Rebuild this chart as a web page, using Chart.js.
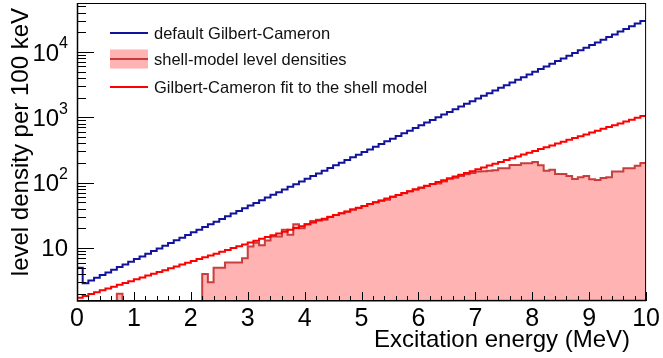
<!DOCTYPE html>
<html>
<head>
<meta charset="UTF-8">
<title>Level densities</title>
<script src="https://cdn.jsdelivr.net/npm/chart.js@4.4.1/dist/chart.umd.min.js"></script>
<style>
  body { margin: 0; background: #fff; }
  #chart { display: block; }
</style>
</head>
<body>
<canvas id="chart" width="663" height="358"></canvas>
<script>
// 100 bins of 100 keV from 0 to 10 MeV
var binWidth = 0.1;
var nBins = 100;

// default Gilbert-Cameron
var defaultGC = [
  5.00, 2.90, 3.18, 3.50, 3.85, 4.23, 4.64, 5.10, 5.61, 6.16,
  6.77, 7.44, 8.18, 8.98, 9.87, 10.8, 11.9, 13.1, 14.4, 15.8,
  17.4, 19.1, 21.0, 23.1, 25.3, 27.9, 30.6, 33.6, 36.9, 40.6,
  44.6, 49.0, 53.9, 59.2, 65.1, 71.5, 78.6, 86.4, 94.9, 104,
  115, 126, 138, 152, 167, 184, 202, 222, 244, 268,
  294, 323, 355, 390, 429, 471, 518, 569, 625, 687,
  755, 830, 912, 1000, 1100, 1210, 1330, 1460, 1610, 1760,
  1940, 2130, 2340, 2570, 2830, 3110, 3410, 3750, 4120, 4530,
  4980, 5470, 6010, 6600, 7260, 7970, 8760, 9630, 10600, 11600,
  12800, 14000, 15400, 17000, 18600, 20500, 22500, 24700, 27200, 29900
];

// Gilbert-Cameron fit to the shell model
var fitGC = [
  1.74, 1.85, 1.98, 2.11, 2.25, 2.40, 2.56, 2.73, 2.92, 3.11,
  3.32, 3.54, 3.78, 4.03, 4.30, 4.58, 4.89, 5.22, 5.57, 5.94,
  6.33, 6.76, 7.21, 7.69, 8.20, 8.75, 9.33, 9.96, 10.6, 11.3,
  12.1, 12.9, 13.8, 14.7, 15.7, 16.7, 17.8, 19.0, 20.3, 21.6,
  23.1, 24.6, 26.3, 28.0, 29.9, 31.9, 34.0, 36.3, 38.7, 41.3,
  44.1, 47.0, 50.1, 53.5, 57.1, 60.9, 64.9, 69.3, 73.9, 78.8,
  84.1, 89.7, 95.7, 102, 109, 116, 124, 132, 141, 150,
  161, 171, 183, 195, 208, 222, 237, 252, 269, 287,
  306, 327, 349, 372, 397, 424, 452, 482, 514, 548,
  585, 624, 666, 710, 758, 808, 862, 920, 981, 1047
];

// shell-model level densities
var shellModel = [
  0, 0, 0, 0, 0, 0, 0, 2, 0, 0,
  0, 0, 0, 0, 0, 0, 0, 0, 0, 0,
  0, 0, 4, 3, 5, 5, 6, 6, 6, 7,
  10.5, 12, 11, 13, 15, 15, 19, 16, 23, 20,
  23, 26, 27, 27, 30, 32, 34, 36, 39, 41,
  44, 47, 50, 53, 55, 61, 65, 69, 74, 79,
  83, 89, 95, 97, 104, 116, 119, 126, 134, 140,
  148, 150, 152, 155, 166, 166, 187, 187, 198, 198,
  208, 185, 152, 158, 136, 136, 126, 114, 121, 126,
  113, 110, 118, 121, 148, 148, 166, 166, 182, 200
];

var yDecades = [1, 2, 3, 4];
var legendLabels = ['default Gilbert-Cameron', 'shell-model level densities', 'Gilbert-Cameron fit to the shell model'];

var yMin = 1.545;
var yMax = 56200;
var font = '"Liberation Sans", Arial, Helvetica, sans-serif';

// bin edges; last edge repeats last bin content so the step closes at 10 MeV
function steps(vals) {
  var pts = [];
  for (var i = 0; i <= nBins; i++) {
    var v = vals[Math.min(i, nBins - 1)];
    pts.push({ x: +(i * binWidth).toFixed(1), y: v > 0 ? v : yMin });
  }
  return pts;
}

var rootStyle = {
  id: 'rootStyle',
  afterDatasetsDraw: function (chart) {
    var ctx = chart.ctx;
    var a = chart.chartArea;
    var xs = chart.scales.x;
    var ys = chart.scales.y;
    ctx.save();
    // frame
    ctx.strokeStyle = '#000';
    ctx.lineWidth = 1;
    ctx.strokeRect(a.left + 0.5, a.top + 0.5, a.right - a.left - 1, a.bottom - a.top - 1);
    ctx.lineWidth = 1.5;
    ctx.beginPath();
    ctx.moveTo(a.left + 0.5, a.top);
    ctx.lineTo(a.left + 0.5, a.bottom);
    ctx.lineTo(a.right, a.bottom - 0.5);
    ctx.stroke();

    // x ticks, inward
    ctx.lineWidth = 1;
    for (var t = 0; t <= 50; t++) {
      var xv = t * 0.2;
      var px = Math.round(xs.getPixelForValue(xv)) + 0.5;
      var len = (t % 5 === 0) ? 9 : 5;
      ctx.beginPath();
      ctx.moveTo(px, a.bottom);
      ctx.lineTo(px, a.bottom - len);
      ctx.stroke();
    }
    // y ticks, inward
    for (var d = 0; d <= 4; d++) {
      for (var m = 1; m <= 9; m++) {
        var yv = m * Math.pow(10, d);
        if (yv < yMin || yv > yMax) continue;
        var py = Math.round(ys.getPixelForValue(yv)) + 0.5;
        var l = (m === 1) ? 17 : 9;
        ctx.beginPath();
        ctx.moveTo(a.left, py);
        ctx.lineTo(a.left + l, py);
        ctx.stroke();
      }
    }

    // y labels 10, 10^2, ...
    ctx.fillStyle = '#000';
    ctx.textBaseline = 'middle';
    yDecades.forEach(function (k) {
      var py = ys.getPixelForValue(Math.pow(10, k));
      var right = a.left - 9;
      if (k === 1) {
        ctx.font = '24px ' + font;
        ctx.textAlign = 'right';
        ctx.fillText('10', right, py + 1);
      } else {
        ctx.font = '16px ' + font;
        var sw = ctx.measureText(String(k)).width;
        ctx.textAlign = 'left';
        ctx.fillText(String(k), right - sw, py - 8);
        ctx.font = '24px ' + font;
        ctx.textAlign = 'right';
        ctx.fillText('10', right - sw, py + 2);
      }
    });

    // axis titles
    ctx.font = '24px ' + font;
    ctx.textAlign = 'right';
    ctx.textBaseline = 'alphabetic';
    ctx.fillText('Excitation energy (MeV)', a.right - 16, 347);
    ctx.save();
    ctx.translate(28, 8);
    ctx.rotate(-Math.PI / 2);
    ctx.fillText('level density per 100 keV', 0, 0);
    ctx.restore();

    // legend
    var rows = [33, 59, 87];
    var ds = chart.data.datasets;
    ctx.font = '16.5px ' + font;
    ctx.textAlign = 'left';
    ctx.textBaseline = 'middle';
    legendLabels.forEach(function (lab, i) {
      var d = ds[i];
      var y = rows[i];
      if (d.fill) {
        ctx.fillStyle = d.backgroundColor;
        ctx.fillRect(110, y - 9.5, 38, 19);
      }
      ctx.strokeStyle = d.borderColor;
      ctx.lineWidth = 2;
      ctx.beginPath();
      ctx.moveTo(110, y);
      ctx.lineTo(148, y);
      ctx.stroke();
      ctx.fillStyle = '#111';
      ctx.fillText(lab, 154, y + 1);
    });
    ctx.restore();
  }
};

var chart = new Chart(document.getElementById('chart'), {
  type: 'line',
  data: {
    datasets: [
      {
        label: legendLabels[0],
        data: steps(defaultGC),
        borderColor: '#12129c',
        borderWidth: 2,
        stepped: 'before',
        pointRadius: 0,
        fill: false,
        order: 1
      },
      {
        label: legendLabels[1],
        data: steps(shellModel),
        borderColor: 'rgba(195,45,45,0.9)',
        backgroundColor: '#ffb3b3',
        borderWidth: 2,
        stepped: 'before',
        pointRadius: 0,
        fill: 'start',
        order: 3
      },
      {
        label: legendLabels[2],
        data: steps(fitGC),
        borderColor: '#ff0000',
        borderWidth: 2,
        stepped: 'before',
        pointRadius: 0,
        fill: false,
        order: 2
      }
    ]
  },
  options: {
    responsive: false,
    animation: false,
    layout: { padding: { top: 3, right: 14, left: 0, bottom: 0 } },
    plugins: {
      legend: { display: false },
      tooltip: { enabled: false }
    },
    scales: {
      x: {
        type: 'linear',
        min: 0,
        max: 10,
        grid: { display: false, drawTicks: false },
        border: { display: false },
        ticks: {
          stepSize: 1,
          autoSkip: false,
          maxRotation: 0,
          padding: 3,
          color: '#000',
          font: { size: 25, family: font }
        },
        afterFit: function (s) { s.height = 57; }
      },
      y: {
        type: 'logarithmic',
        min: yMin,
        max: yMax,
        grid: { display: false, drawTicks: false },
        border: { display: false },
        ticks: { display: false },
        afterFit: function (s) { s.width = 77; }
      }
    }
  },
  plugins: [rootStyle]
});
</script>
</body>
</html>
